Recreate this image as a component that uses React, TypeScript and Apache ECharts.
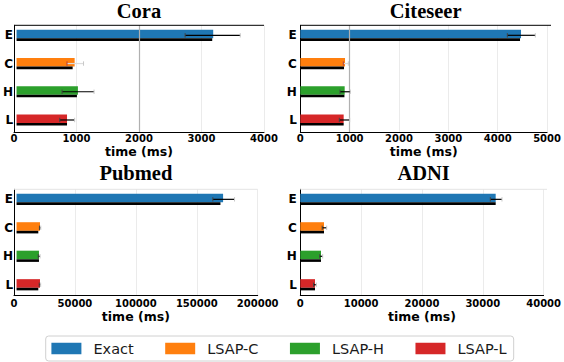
import React, { useEffect, useRef } from 'react';
import * as echarts from 'echarts';

// ---------- data ----------
const categories = ['E', 'C', 'H', 'L'];
const methods = ['Exact', 'LSAP-C', 'LSAP-H', 'LSAP-L'];
const axisTitle = 'time (ms)';

const coraTime = [3179, 939, 992, 816];
const coraTimeBlack = [3163, 907, 976, 816];
const coraErrLow = [2725, 816, 736, 699];
const coraErrHigh = [3616, 1083, 1253, 939];
const coraMax = 4000;
const coraInterval = 1000;
const coraRef = 2000;

const citeseerTime = [4402, 892, 885, 865];
const citeseerTimeBlack = [4382, 872, 880, 865];
const citeseerErrLow = [4129, 858, 792, 778];
const citeseerErrHigh = [4687, 958, 997, 985];
const citeseerMax = 5000;
const citeseerInterval = 1000;
const citeseerRef = 1000;

const pubmedTime = [171300, 19450, 18600, 19450];
const pubmedTimeBlack = [169100, 18050, 18600, 18050];
const pubmedErrLow = [162800, 19000, 18000, 18800];
const pubmedErrHigh = [180800, 20100, 19500, 20000];
const pubmedMax = 200000;
const pubmedInterval = 50000;

const adniTime = [31680, 3843, 3356, 2383];
const adniTimeBlack = [31680, 3843, 3356, 2383];
const adniErrLow = [30810, 3550, 3150, 2150];
const adniErrHigh = [32700, 4280, 3630, 2600];
const adniMax = 40000;
const adniInterval = 10000;

// ---------- styles / layout ----------
const methodColors = ['#1f77b4', '#ff7f0e', '#2ca02c', '#d62728'];
const SANS = 'DejaVu Sans';

const panels = [
  { title: 'Cora', vals: coraTime, black: coraTimeBlack, lo: coraErrLow, hi: coraErrHigh, max: coraMax, interval: coraInterval, ref: coraRef,
    l: 14, r: 264, t: 25.3, b: 132, catTop: 21.2, catH: 112.9, topColor: '#000', labelMargin: 1, nameGap: 13, titleY: 10.6, lightRows: [1] },
  { title: 'Citeseer', vals: citeseerTime, black: citeseerTimeBlack, lo: citeseerErrLow, hi: citeseerErrHigh, max: citeseerMax, interval: citeseerInterval, ref: citeseerRef,
    l: 300.3, r: 551, t: 25.3, b: 132, catTop: 21.2, catH: 112.9, topColor: '#000', labelMargin: 1, nameGap: 13, titleY: 10.6, lightRows: [1] },
  { title: 'Pubmed', vals: pubmedTime, black: pubmedTimeBlack, lo: pubmedErrLow, hi: pubmedErrHigh, max: pubmedMax, interval: pubmedInterval, ref: null,
    l: 14, r: 257.7, t: 189.3, b: 295, catTop: 185.1, catH: 113.9, topColor: '#e4e4e4', labelMargin: 3, nameGap: 15, titleY: 172.5, lightRows: [] },
  { title: 'ADNI', vals: adniTime, black: adniTimeBlack, lo: adniErrLow, hi: adniErrHigh, max: adniMax, interval: adniInterval, ref: null,
    l: 300.3, r: 547, t: 189.3, b: 295, catTop: 185.1, catH: 113.9, topColor: '#e4e4e4', labelMargin: 3, nameGap: 15, titleY: 172.5, lightRows: [] },
];

function buildOption() {
  const grid: any[] = [];
  const xAxis: any[] = [];
  const yAxis: any[] = [];
  const series: any[] = [];
  const graphic: any[] = [];

  panels.forEach((p, i) => {
    const fi = 2 * i;
    const bi = 2 * i + 1;
    const W = p.r - p.l;
    grid.push({ left: p.l, top: p.t, width: W, height: p.b - p.t });
    grid.push({ left: p.l, top: p.catTop, width: W, height: p.catH });

    xAxis.push({
      gridIndex: fi, type: 'value', min: 0, max: p.max, interval: p.interval,
      axisLine: { show: true, onZero: false, lineStyle: { color: '#000', width: 1 } },
      axisTick: { show: false },
      axisLabel: {
        fontFamily: SANS, fontWeight: 'bold', fontSize: 10, color: '#000', margin: p.labelMargin,
        formatter: (v: number) => String(v),
      },
      splitLine: { show: true, lineStyle: { color: '#ebebeb', width: 1 } },
      name: axisTitle, nameLocation: 'middle', nameGap: p.nameGap,
      nameTextStyle: { fontFamily: SANS, fontWeight: 'bold', fontSize: 12.5, color: '#000' },
    });
    yAxis.push({
      gridIndex: fi, type: 'value', min: 0, max: 1,
      axisLine: { show: true, onZero: false, lineStyle: { color: '#000', width: 1 } },
      axisTick: { show: false }, axisLabel: { show: false }, splitLine: { show: false },
    });
    xAxis.push({ gridIndex: bi, type: 'value', min: 0, max: p.max, show: false, splitLine: { show: false } });
    yAxis.push({
      gridIndex: bi, type: 'category', data: categories, inverse: true,
      axisLine: { show: false }, axisTick: { show: false }, splitLine: { show: false },
      axisLabel: { fontFamily: SANS, fontWeight: 'bold', fontSize: 12, color: '#000', margin: 3.5 },
    });

    series.push({
      type: 'bar', name: p.title + '-time', xAxisIndex: bi, yAxisIndex: bi,
      data: p.vals, barWidth: 8.6, barGap: '0%',
      itemStyle: { color: (d: any) => methodColors[d.dataIndex] },
      silent: true,
    });
    series.push({
      type: 'bar', name: p.title + '-time2', xAxisIndex: bi, yAxisIndex: bi,
      data: p.black, barWidth: 2.6, barGap: '0%',
      itemStyle: { color: '#000' }, silent: true,
    });
    const light = p.lightRows;
    series.push({
      type: 'custom', name: p.title + '-err', xAxisIndex: bi, yAxisIndex: bi,
      data: categories.map((c, k) => [k, p.lo[k], p.hi[k]]),
      encode: { x: [1, 2], y: 0 },
      z: 5, silent: true,
      renderItem: (params: any, api: any) => {
        const cat = api.value(0);
        const a = api.coord([api.value(1), cat]);
        const b = api.coord([api.value(2), cat]);
        const isLight = light.indexOf(cat) >= 0;
        const cap = 2.2;
        return {
          type: 'group',
          children: [
            { type: 'line', shape: { x1: a[0], y1: a[1], x2: b[0], y2: b[1] }, style: { stroke: isLight ? '#dcdcdc' : '#000', lineWidth: 1.2 } },
            { type: 'line', shape: { x1: a[0], y1: a[1] - cap, x2: a[0], y2: a[1] + cap }, style: { stroke: isLight ? '#b04040' : '#444', lineWidth: 1 } },
            { type: 'line', shape: { x1: b[0], y1: b[1] - cap, x2: b[0], y2: b[1] + cap }, style: { stroke: '#c8c8c8', lineWidth: 1 } },
          ],
        };
      },
    });
    if (p.ref !== null) {
      series.push({
        type: 'line', name: p.title + '-ref', xAxisIndex: fi, yAxisIndex: fi, data: [], silent: true,
        markLine: {
          silent: true, symbol: 'none', label: { show: false },
          lineStyle: { color: '#b0b0b0', width: 1.2, type: 'solid' },
          data: [{ xAxis: p.ref }],
        },
      });
    }
    graphic.push({
      type: 'line', silent: true, z: 10,
      shape: { x1: p.l, y1: p.t, x2: p.r, y2: p.t },
      style: { stroke: p.topColor, lineWidth: 1 },
    });
    graphic.push({
      type: 'text', silent: true,
      x: (p.l + p.r) / 2, y: p.titleY,
      style: {
        text: p.title, textAlign: 'center', textVerticalAlign: 'middle',
        font: 'bold 20.5px "Liberation Serif"', fill: '#000',
      },
    });
  });

  methods.forEach((m, k) => {
    series.push({ type: 'line', name: m, xAxisIndex: 0, yAxisIndex: 0, data: [], itemStyle: { color: methodColors[k] }, lineStyle: { color: methodColors[k] } });
  });

  return {
    animation: false,
    backgroundColor: '#fff',
    grid, xAxis, yAxis, series, graphic,
    legend: {
      data: methods, left: 45.7, top: 336, orient: 'horizontal',
      icon: 'rect', itemWidth: 30, itemHeight: 11.5, itemGap: 31.5,
      padding: [5, 7, 5, 5.7],
      borderColor: '#d0d0d0', borderWidth: 1, borderRadius: 3,
      textStyle: { fontFamily: SANS, fontSize: 14.5, color: '#1a1a1a', padding: [0, 0, 0, 7] },
      selectedMode: false,
    },
  };
}

export default function App() {
  const ref = useRef<HTMLDivElement>(null);
  useEffect(() => {
    if (!ref.current) return;
    const chart = echarts.init(ref.current, undefined, { renderer: 'svg' });
    chart.setOption(buildOption() as any);
    return () => chart.dispose();
  }, []);
  return <div ref={ref} style={{ position: 'fixed', left: 0, top: 0, width: 564, height: 362, background: '#fff' }} />;
}
